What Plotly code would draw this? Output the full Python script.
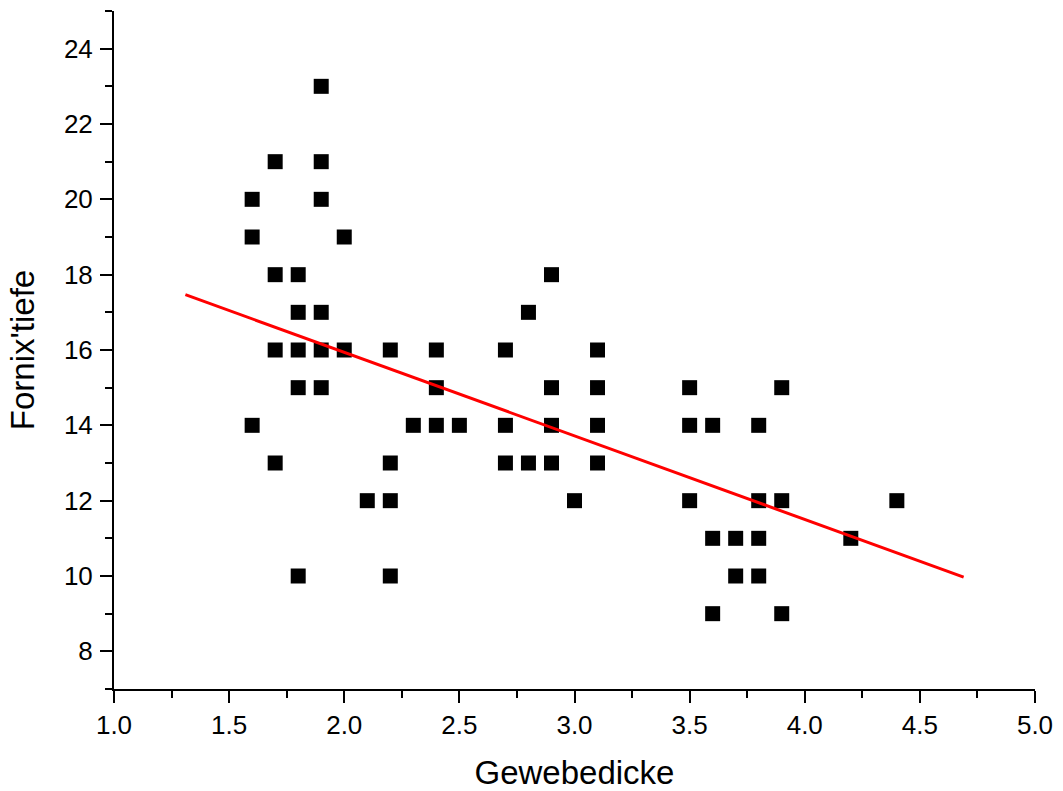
import plotly.graph_objects as go

# Scatter data: Gewebedicke (x) vs Fornix'tiefe (y)
gewebedicke = [
    1.6, 1.6, 1.6,
    1.7, 1.7, 1.7, 1.7,
    1.8, 1.8, 1.8, 1.8, 1.8,
    1.9, 1.9, 1.9, 1.9, 1.9, 1.9,
    2.0, 2.0,
    2.1,
    2.2, 2.2, 2.2, 2.2,
    2.3,
    2.4, 2.4, 2.4,
    2.5,
    2.7, 2.7, 2.7,
    2.8, 2.8,
    2.9, 2.9, 2.9, 2.9,
    3.0,
    3.1, 3.1, 3.1, 3.1,
    3.5, 3.5, 3.5,
    3.6, 3.6, 3.6,
    3.7, 3.7,
    3.8, 3.8, 3.8, 3.8,
    3.9, 3.9, 3.9,
    4.2,
    4.4,
]
fornixtiefe = [
    20, 19, 14,
    21, 18, 16, 13,
    18, 17, 16, 15, 10,
    23, 21, 20, 17, 16, 15,
    19, 16,
    12,
    16, 13, 12, 10,
    14,
    16, 15, 14,
    14,
    16, 14, 13,
    17, 13,
    18, 15, 14, 13,
    12,
    16, 15, 14, 13,
    15, 14, 12,
    14, 11, 9,
    11, 10,
    14, 12, 11, 10,
    15, 12, 9,
    11,
    12,
]

# Linear fit line endpoints
fit_x = [1.31, 4.69]
fit_y = [17.47, 9.97]

x_tickvals = [1.0, 1.5, 2.0, 2.5, 3.0, 3.5, 4.0, 4.5, 5.0]
x_ticktext = ["1.0", "1.5", "2.0", "2.5", "3.0", "3.5", "4.0", "4.5", "5.0"]
y_tickvals = [8, 10, 12, 14, 16, 18, 20, 22, 24]
y_ticktext = ["8", "10", "12", "14", "16", "18", "20", "22", "24"]

FONT = "Liberation Sans, Arial, sans-serif"

fig = go.Figure()
fig.add_trace(go.Scatter(
    x=gewebedicke, y=fornixtiefe, mode="markers",
    marker=dict(symbol="square", size=15, color="black", line=dict(width=0)),
    showlegend=False, hoverinfo="x+y",
))
fig.add_trace(go.Scatter(
    x=fit_x, y=fit_y, mode="lines",
    line=dict(color="#ff0000", width=3),
    showlegend=False,
))

fig.update_layout(
    width=1063, height=791,
    margin=dict(l=114, r=28, t=11, b=102),
    paper_bgcolor="white", plot_bgcolor="white",
    font=dict(family=FONT, color="black"),
    xaxis=dict(
        range=[1.0, 5.0], tickvals=x_tickvals, ticktext=x_ticktext,
        showgrid=False, zeroline=False, automargin=False,
        showline=True, linewidth=2, linecolor="black",
        ticks="outside", ticklen=12, tickwidth=2, tickcolor="black",
        tickfont=dict(size=26, family=FONT),
        ticklabelstandoff=0,
        minor=dict(dtick=0.25, tick0=1.0, ticks="outside", ticklen=7, tickwidth=2, tickcolor="black", showgrid=False),
        title=dict(text="Gewebedicke", font=dict(size=33, family=FONT), standoff=32),
    ),
    yaxis=dict(
        range=[7, 25], tickvals=y_tickvals, ticktext=y_ticktext,
        showgrid=False, zeroline=False, automargin=False,
        showline=True, linewidth=2, linecolor="black",
        ticks="outside", ticklen=12, tickwidth=2, tickcolor="black",
        tickfont=dict(size=26, family=FONT),
        ticklabelstandoff=2,
        minor=dict(dtick=1, tick0=7, ticks="outside", ticklen=7, tickwidth=2, tickcolor="black", showgrid=False),
        title=dict(text="Fornix'tiefe", font=dict(size=33, family=FONT), standoff=19),
    ),
)

# remove the default 8px page margin so the figure fills the window exactly
fig.write_html(
    "out.html",
    config={"displayModeBar": False},
    post_script="document.body.style.margin='0';document.body.style.overflow='hidden';",
)
